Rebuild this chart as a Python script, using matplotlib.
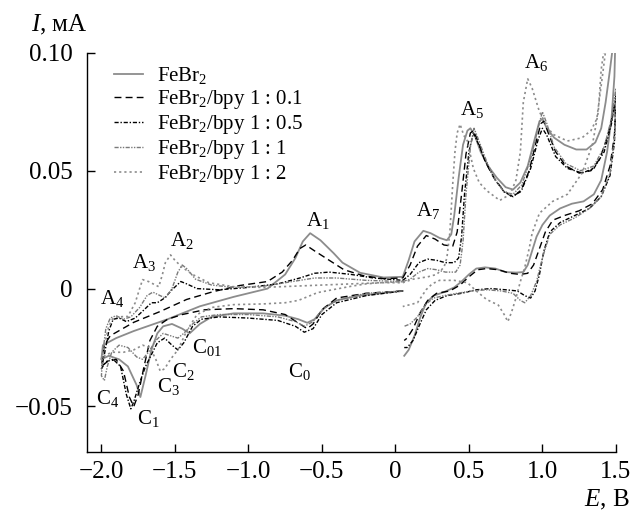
import matplotlib
matplotlib.use("Agg")
import matplotlib.pyplot as plt

plt.rcParams["font.family"] = ["Liberation Serif", "DejaVu Serif"]
plt.rcParams["mathtext.fontset"] = "custom"
plt.rcParams["mathtext.rm"] = "Liberation Serif"
plt.rcParams["mathtext.it"] = "Liberation Serif:italic"
plt.rcParams["mathtext.default"] = "regular"

# ── data (E, V ; I, mA) ─────────────────────────────────────────────────────
# left loop: 0.05 -> -2.0 -> 0.05 ; right loop: 0.05 -> 1.5 -> 0.05

febr2_left_E = [0.05, -0.1, -0.25, -0.4, -0.48, -0.55, -0.6, -0.66, -0.75, -0.9, -1.1, -1.25, -1.33, -1.40,
                -1.45, -1.52, -1.58, -1.62, -1.66, -1.70, -1.735, -1.76, -1.82, -1.88, -1.95, -2.0,
                -1.99, -1.9, -1.78, -1.55, -1.33, -1.1, -0.87, -0.75, -0.68, -0.63, -0.58, -0.51, -0.42,
                -0.36, -0.24, -0.08, 0.05]
febr2_left_I = [-0.001, -0.002, -0.003, -0.005, -0.008, -0.013, -0.0145, -0.013, -0.0115, -0.0105, -0.0105,
                -0.012, -0.015, -0.019, -0.017, -0.015, -0.016, -0.019, -0.026, -0.037, -0.046, -0.041,
                -0.033, -0.030, -0.0285, -0.030,
                -0.024, -0.021, -0.018, -0.013, -0.0075, -0.0035, 0.0, 0.006, 0.013, 0.020, 0.0235, 0.0205,
                0.015, 0.011, 0.0067, 0.0047, 0.005]
febr2_right_E = [0.05, 0.09, 0.13, 0.19, 0.24, 0.30, 0.35, 0.38, 0.40, 0.43, 0.46, 0.49, 0.51, 0.54, 0.58,
                 0.63, 0.69, 0.75, 0.80, 0.85, 0.90, 0.95, 0.98, 1.0, 1.03, 1.08, 1.15, 1.23, 1.30, 1.36,
                 1.40, 1.43, 1.46, 1.49, 1.5,
                 1.49, 1.47, 1.44, 1.40, 1.35, 1.28, 1.20, 1.12, 1.05, 1.0, 0.96, 0.93, 0.90, 0.87, 0.82,
                 0.75, 0.68, 0.61, 0.55, 0.50, 0.45, 0.40, 0.33, 0.26, 0.21, 0.17, 0.13, 0.09, 0.06]
febr2_right_I = [0.005, 0.012, 0.020, 0.0245, 0.0235, 0.0215, 0.0205, 0.023, 0.031, 0.047, 0.061, 0.067,
                 0.068, 0.065, 0.058, 0.052, 0.047, 0.043, 0.042, 0.045, 0.052, 0.064, 0.071, 0.072, 0.068,
                 0.064, 0.061, 0.059, 0.059, 0.062, 0.068, 0.079, 0.093, 0.108, 0.115,
                 0.090, 0.072, 0.058, 0.046, 0.040, 0.037, 0.036, 0.034, 0.031, 0.027, 0.022, 0.016, 0.010,
                 0.007, 0.0068, 0.007, 0.0085, 0.009, 0.0085, 0.006, 0.003, 0.0005, -0.0015, -0.003, -0.006,
                 -0.012, -0.020, -0.026, -0.0285]

bpy01_left_E = [0.05, -0.2, -0.4, -0.5, -0.56, -0.6, -0.65, -0.75, -0.9, -1.1, -1.3, -1.45, -1.55, -1.62,
                -1.67, -1.71, -1.75, -1.78, -1.81, -1.85, -1.9, -1.96, -2.0,
                -1.98, -1.94, -1.78, -1.6, -1.42, -1.24, -1.06, -0.87, -0.77, -0.70, -0.65, -0.61, -0.55,
                -0.45, -0.35, -0.22, -0.08, 0.05]
bpy01_left_I = [-0.001, -0.002, -0.004, -0.009, -0.015, -0.017, -0.015, -0.011, -0.009, -0.0085, -0.009,
                -0.011, -0.013, -0.016, -0.022, -0.033, -0.045, -0.050, -0.046, -0.035, -0.030, -0.031,
                -0.033,
                -0.024, -0.020, -0.0143, -0.0097, -0.0046, -0.0013, 0.0013, 0.003, 0.007, 0.012, 0.017,
                0.0185, 0.016, 0.012, 0.008, 0.0055, 0.0042, 0.0045]
bpy01_right_E = [0.05, 0.10, 0.15, 0.21, 0.27, 0.33, 0.39, 0.42, 0.45, 0.48, 0.51, 0.53, 0.56, 0.61, 0.67,
                 0.73, 0.79, 0.85, 0.91, 0.96, 0.99, 1.01, 1.04, 1.09, 1.16, 1.25, 1.33, 1.39, 1.44, 1.48,
                 1.5,
                 1.49, 1.46, 1.41, 1.34, 1.25, 1.15, 1.07, 1.02, 0.98, 0.94, 0.90, 0.85, 0.78, 0.70, 0.62,
                 0.56, 0.50, 0.44, 0.37, 0.28, 0.22, 0.17, 0.12, 0.08, 0.06]
bpy01_right_I = [0.0045, 0.010, 0.018, 0.0225, 0.021, 0.0185, 0.018, 0.024, 0.040, 0.057, 0.066, 0.067,
                 0.063, 0.054, 0.047, 0.042, 0.039, 0.041, 0.050, 0.063, 0.070, 0.071, 0.066, 0.058, 0.052,
                 0.049, 0.050, 0.055, 0.064, 0.074, 0.080,
                 0.065, 0.052, 0.042, 0.036, 0.033, 0.031, 0.029, 0.024, 0.017, 0.010, 0.0065, 0.006,
                 0.0065, 0.008, 0.0085, 0.008, 0.005, 0.0015, -0.001, -0.002, -0.005, -0.010, -0.017,
                 -0.021, -0.022]

bpy05_left_E = [0.05, -0.2, -0.4, -0.5, -0.56, -0.62, -0.68, -0.8, -1.0, -1.2, -1.32, -1.38, -1.44, -1.48,
                -1.52, -1.57, -1.62, -1.66, -1.70, -1.74, -1.78, -1.80, -1.83, -1.87, -1.92, -1.97, -2.0,
                -1.98, -1.95, -1.92, -1.88, -1.83, -1.77, -1.71, -1.66, -1.62, -1.57, -1.52, -1.46, -1.42,
                -1.35, -1.2, -1.0, -0.8, -0.65, -0.55, -0.45, -0.3, -0.15, 0.05]
bpy05_left_I = [-0.001, -0.003, -0.006, -0.011, -0.017, -0.0185, -0.016, -0.0135, -0.0125, -0.012, -0.013,
                -0.016, -0.023, -0.026, -0.024, -0.021, -0.023, -0.028, -0.033, -0.040, -0.048, -0.051,
                -0.045, -0.033, -0.030, -0.031, -0.034,
                -0.028, -0.018, -0.013, -0.0125, -0.014, -0.0125, -0.009, -0.006, -0.006, -0.004, -0.0005,
                0.003, 0.002, 0.0, -0.0005, 0.0005, 0.002, 0.0045, 0.0065, 0.007, 0.006, 0.0045, 0.0035]
bpy05_right_E = [0.05, 0.10, 0.16, 0.22, 0.28, 0.34, 0.40, 0.43, 0.45, 0.47, 0.50, 0.53, 0.56, 0.62, 0.68,
                 0.74, 0.80, 0.86, 0.92, 0.97, 1.0, 1.03, 1.09, 1.17, 1.27, 1.35, 1.42, 1.47, 1.5,
                 1.49, 1.46, 1.40, 1.32, 1.22, 1.12, 1.05, 1.01, 0.98, 0.95, 0.92, 0.88, 0.83, 0.75, 0.65,
                 0.55, 0.45, 0.35, 0.27, 0.21, 0.16, 0.12, 0.08, 0.06]
bpy05_right_I = [0.0035, 0.006, 0.011, 0.0125, 0.012, 0.011, 0.011, 0.013, 0.022, 0.040, 0.058, 0.066,
                 0.062, 0.053, 0.046, 0.041, 0.039, 0.042, 0.051, 0.063, 0.068, 0.065, 0.056, 0.051, 0.049,
                 0.051, 0.058, 0.070, 0.082,
                 0.062, 0.048, 0.039, 0.034, 0.031, 0.028, 0.024, 0.016, 0.006, -0.001, -0.004, -0.003,
                 -0.001, -0.0005, 0.0, -0.0005, -0.002, -0.003, -0.005, -0.009, -0.016, -0.022, -0.025,
                 -0.025]

bpy1_left_E = [0.05, -0.2, -0.4, -0.5, -0.56, -0.62, -0.68, -0.8, -1.0, -1.2, -1.32, -1.38, -1.44, -1.48,
               -1.53, -1.58, -1.63, -1.68, -1.72, -1.76, -1.82, -1.88, -1.93, -1.96, -1.98, -2.0,
               -1.99, -1.97, -1.94, -1.90, -1.85, -1.80, -1.74, -1.69, -1.65, -1.60, -1.565, -1.52, -1.48,
               -1.45, -1.42, -1.36, -1.25, -1.1, -0.9, -0.7, -0.55, -0.4, -0.2, 0.05]
bpy1_left_I = [-0.001, -0.002, -0.005, -0.009, -0.014, -0.016, -0.014, -0.012, -0.011, -0.011, -0.012,
               -0.015, -0.019, -0.021, -0.020, -0.019, -0.022, -0.027, -0.030, -0.029, -0.025, -0.024,
               -0.027, -0.033, -0.039, -0.037,
               -0.027, -0.017, -0.0125, -0.0115, -0.013, -0.012, -0.008, -0.003, -0.0015, -0.003, -0.004,
               0.0, 0.007, 0.010, 0.0085, 0.004, 0.0015, 0.0005, 0.001, 0.003, 0.0045, 0.0045, 0.0035,
               0.003]
bpy1_right_E = [0.05, 0.10, 0.16, 0.22, 0.28, 0.34, 0.41, 0.44, 0.46, 0.48, 0.51, 0.535, 0.56, 0.62, 0.68,
                0.74, 0.80, 0.86, 0.92, 0.97, 1.0, 1.03, 1.08, 1.16, 1.26, 1.35, 1.42, 1.47, 1.5,
                1.49, 1.46, 1.40, 1.32, 1.22, 1.12, 1.05, 1.0, 0.96, 0.92, 0.88, 0.85, 0.80, 0.72, 0.62,
                0.52, 0.42, 0.33, 0.26, 0.20, 0.15, 0.10, 0.06]
bpy1_right_I = [0.003, 0.004, 0.007, 0.0085, 0.008, 0.007, 0.007, 0.010, 0.020, 0.040, 0.060, 0.068, 0.064,
                0.054, 0.046, 0.041, 0.040, 0.044, 0.055, 0.068, 0.075, 0.070, 0.060, 0.053, 0.050, 0.052,
                0.060, 0.072, 0.085,
                0.064, 0.049, 0.039, 0.034, 0.030, 0.027, 0.023, 0.013, 0.003, -0.003, -0.006, -0.005,
                -0.002, -0.001, -0.0005, -0.001, -0.002, -0.003, -0.004, -0.007, -0.012, -0.015, -0.016]

bpy2_left_E = [0.05, -0.1, -0.2, -0.3, -0.42, -0.53, -0.6, -0.66, -0.75, -0.9, -1.1, -1.25, -1.35, -1.42,
               -1.48, -1.53, -1.57, -1.60, -1.63, -1.67, -1.72, -1.78, -1.85, -1.92, -1.97, -2.0,
               -1.98, -1.95, -1.92, -1.89, -1.82, -1.77, -1.74, -1.72, -1.68, -1.61, -1.585, -1.565, -1.53,
               -1.50, -1.45, -1.38, -1.27, -1.1, -0.9, -0.7, -0.5, -0.3, -0.1, 0.05]
bpy2_left_I = [0.003, 0.0025, 0.002, 0.001, -0.0004, -0.0017, -0.0035, -0.005, -0.006, -0.0065, -0.0068,
               -0.008, -0.011, -0.018, -0.026, -0.030, -0.034, -0.035, -0.030, -0.025, -0.024, -0.026,
               -0.027, -0.027, -0.028, -0.030,
               -0.024, -0.016, -0.0125, -0.012, -0.0118, -0.006, 0.0, 0.0038, 0.003, 0.0008, 0.006, 0.011,
               0.0143, 0.012, 0.009, 0.006, 0.0025, 0.0008, 0.0005, 0.001, 0.0015, 0.002, 0.0025, 0.0025]
bpy2_right_E = [0.05, 0.12, 0.22, 0.28, 0.33, 0.35, 0.37, 0.39, 0.405, 0.42, 0.44, 0.465, 0.49, 0.53, 0.57,
                0.62, 0.71, 0.78, 0.82, 0.85, 0.87, 0.90, 0.93, 0.98, 1.03, 1.07, 1.17, 1.27, 1.33, 1.37,
                1.41, 1.44,
                1.43, 1.40, 1.38, 1.34, 1.27, 1.17, 1.07, 0.98, 0.93, 0.91, 0.88, 0.85, 0.82, 0.79, 0.765,
                0.74, 0.70, 0.62, 0.55, 0.49, 0.40, 0.30, 0.25, 0.21, 0.15, 0.05]
bpy2_right_I = [0.0025, 0.004, 0.005, 0.006, 0.009, 0.013, 0.0235, 0.0445, 0.058, 0.066, 0.0697, 0.065,
                0.0626, 0.051, 0.045, 0.0416, 0.0374, 0.040, 0.046, 0.058, 0.079, 0.089, 0.085, 0.075,
                0.069, 0.0655, 0.0626, 0.064, 0.067, 0.072, 0.091, 0.106,
                0.106, 0.093, 0.075, 0.061, 0.049, 0.040, 0.037, 0.032, 0.0235, 0.017, 0.009, 0.003,
                -0.004, -0.010, -0.014, -0.011, -0.007, -0.0046, -0.001, 0.0025, 0.0035, 0.0035, 0.002,
                -0.0004, -0.006, -0.0076]

series_labels = ["FeBr$_2$", "FeBr$_2$/bpy 1 : 0.1", "FeBr$_2$/bpy 1 : 0.5",
                 "FeBr$_2$/bpy 1 : 1", "FeBr$_2$/bpy 1 : 2"]

peak_names = ["A$_1$", "A$_2$", "A$_3$", "A$_4$", "A$_5$", "A$_6$", "A$_7$",
              "C$_0$", "C$_{01}$", "C$_1$", "C$_2$", "C$_3$", "C$_4$"]
peak_E = [-0.53, -1.45, -1.71, -1.93, 0.52, 0.96, 0.22,
          -0.65, -1.28, -1.68, -1.44, -1.545, -1.96]
peak_I = [0.029, 0.0205, 0.011, -0.004, 0.076, 0.096, 0.033,
          -0.035, -0.025, -0.055, -0.035, -0.0415, -0.0465]

x_ticks = [-2.0, -1.5, -1.0, -0.5, 0.0, 0.5, 1.0, 1.5]
x_ticklabels = ["\u22122.0", "\u22121.5", "\u22121.0", "\u22120.5", "0", "0.5", "1.0", "1.5"]
y_ticks = [-0.05, 0.0, 0.05, 0.10]
y_ticklabels = ["\u22120.05", "0", "0.05", "0.10"]

# ── styles ──────────────────────────────────────────────────────────────────
styles = [
    dict(color="#8c8c8c", linewidth=1.3, linestyle="-"),
    dict(color="black", linewidth=1.0, linestyle=(0, (5, 3))),
    dict(color="black", linewidth=1.0, linestyle=(0, (3, 1.3, 1, 1.3))),
    dict(color="#7a7a7a", linewidth=1.0, linestyle=(0, (3, 1, 1, 1, 1, 1))),
    dict(color="#8c8c8c", linewidth=1.2, linestyle=(0, (1.3, 1.8))),
]

curves = [
    (febr2_left_E, febr2_left_I, febr2_right_E, febr2_right_I),
    (bpy01_left_E, bpy01_left_I, bpy01_right_E, bpy01_right_I),
    (bpy05_left_E, bpy05_left_I, bpy05_right_E, bpy05_right_I),
    (bpy1_left_E, bpy1_left_I, bpy1_right_E, bpy1_right_I),
    (bpy2_left_E, bpy2_left_I, bpy2_right_E, bpy2_right_I),
]

fig = plt.figure(figsize=(6.33, 5.18), dpi=100)
ax = fig.add_axes([0.137, 0.127, 0.836, 0.771])

for (le, li, re, ri), st, lab in zip(curves, styles, series_labels):
    ax.plot(le, li, label=lab, **st)
    ax.plot(re, ri, **st)

for name, e, i in zip(peak_names, peak_E, peak_I):
    ax.text(e, i, name, fontsize=15, ha="center", va="center")

ax.set_xlim(-2.1, 1.5)
ax.set_ylim(-0.0694, 0.10)
ax.set_xticks(x_ticks)
ax.set_xticklabels(x_ticklabels)
ax.set_yticks(y_ticks)
ax.set_yticklabels(y_ticklabels)
ax.tick_params(direction="in", length=6, width=1, labelsize=18)
ax.tick_params(axis="y", pad=10)
ax.tick_params(axis="x", pad=6)
for side in ("top", "right"):
    ax.spines[side].set_visible(False)
for side in ("left", "bottom"):
    ax.spines[side].set_linewidth(1.0)

ax.legend(loc="upper left", bbox_to_anchor=(0.035, 0.99), frameon=False, fontsize=15,
          handlelength=1.4, handletextpad=0.7, labelspacing=0.1, borderaxespad=0.0)

fig.text(59 / 633, 1 - 25 / 518, "$\\mathit{I}$, мА", fontsize=18, ha="center", va="center")
fig.text(0.995, 0.035, "$\\mathit{E}$, В", fontsize=18, ha="right", va="center")

fig.savefig("out.png", dpi=100)
plt.close(fig)
